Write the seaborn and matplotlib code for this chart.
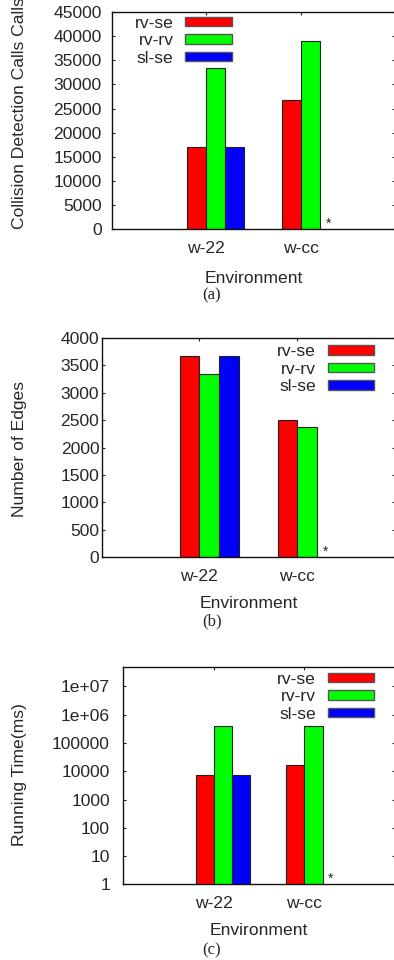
import numpy as np
import pandas as pd
import matplotlib
matplotlib.use("Agg")
import matplotlib.pyplot as plt
from matplotlib.patches import Patch
import seaborn as sns

# ---------------- data ----------------
environments = ["w-22", "w-cc"]
methods = ["rv-se", "rv-rv", "sl-se"]
colors = ["#ff0000", "#00ff00", "#0000ff"]

collision_calls = {"rv-se": [17000, 26700], "rv-rv": [33300, 38900], "sl-se": [17000, np.nan]}
num_edges = {"rv-se": [3670, 2500], "rv-rv": [3340, 2370], "sl-se": [3670, np.nan]}
running_time = {"rv-se": [7200, 17200], "rv-rv": [400000, 390000], "sl-se": [7200, np.nan]}

yticks_a = [0, 5000, 10000, 15000, 20000, 25000, 30000, 35000, 40000, 45000]
yticks_b = [0, 500, 1000, 1500, 2000, 2500, 3000, 3500, 4000]
yticks_c = [1, 10, 100, 1000, 10000, 100000, 1000000, 10000000]
yticklabels_c = ["1", "10", "100", "1000", "10000", "100000", "1e+06", "1e+07"]

ylabels = ["Collision Detection Calls Calls", "Number of Edges", "Running Time(ms)"]
xlabel = "Environment"
captions = ["(a)", "(b)", "(c)"]
missing_mark = "*"

# ---------------- style ----------------
sns.set_style("ticks")
plt.rcParams["font.family"] = ["Liberation Sans", "DejaVu Sans"]
FS = 12.6

fig = plt.figure(figsize=(3.94, 9.6), dpi=100)

W, H = 394.0, 960.0
def rect(left, right, top, bottom):
    return [left / W, 1 - bottom / H, (right - left) / W, (bottom - top) / H]

panels = [
    dict(data=collision_calls, rect=rect(112, 395, 12, 229.3), ylim=(0, 45000), yticks=yticks_a,
         ytl=[str(v) for v in yticks_a], log=False, ypad=7.4,
         ylab_xy=(-0.3251, 0.5352), xlab_y=-0.2485,
         leg_anchor=(0.4223, 0.868), caption_y=295),
    dict(data=num_edges, rect=rect(101.7, 395, 338, 557), ylim=(0, 4000), yticks=yticks_b,
         ytl=[str(v) for v in yticks_b], log=False, ypad=1.7,
         ylab_xy=(-0.2786, 0.4954), xlab_y=-0.234,
         leg_anchor=(0.9284, 0.858), caption_y=621.7),
    dict(data=running_time, rect=rect(123.3, 395, 666.7, 884.3), ylim=(1, 5e7), yticks=yticks_c,
         ytl=yticklabels_c, log=True, ypad=9.6,
         ylab_xy=(-0.3802, 0.5023), xlab_y=-0.233,
         leg_anchor=(0.9227, 0.862), caption_y=950),
]

bar_width = 0.6
n_h = len(methods)
offsets = [(-bar_width / 2 + bar_width / n_h * (i + 0.5)) for i in range(n_h)]

for i, p in enumerate(panels):
    ax = fig.add_axes(p["rect"])
    rows = []
    for m in methods:
        for e, v in zip(environments, p["data"][m]):
            rows.append({"env": e, "method": m, "value": v})
    df = pd.DataFrame(rows)
    if p["log"]:
        ax.set_yscale("log")
    sns.barplot(data=df, x="env", y="value", hue="method", order=environments,
                hue_order=methods, palette=colors, width=bar_width, errorbar=None,
                edgecolor="#222222", linewidth=0.8, saturation=1, legend=False, ax=ax)
    ax.set_ylim(*p["ylim"])
    ax.set_xlim(-1.1, 1.9)
    # tick at the boundary between first and second bar of each group
    ax.set_xticks([k + (offsets[0] + offsets[1]) / 2 for k in range(len(environments))], environments)
    ax.set_yticks(p["yticks"], p["ytl"])
    ax.minorticks_off()
    ax.tick_params(axis="both", direction="in", length=2.4, width=0.8, top=True, right=True,
                   labelsize=FS, color="#222222")
    ax.tick_params(axis="y", pad=p["ypad"])
    ax.tick_params(axis="x", pad=8.5)
    for s in ["left", "top", "bottom"]:
        ax.spines[s].set_linewidth(1.0)
        ax.spines[s].set_color("#111111")
    ax.spines["right"].set_visible(False)

    ax.set_ylabel(ylabels[i], fontsize=FS, va="center")
    ax.yaxis.set_label_coords(*p["ylab_xy"])
    ax.set_xlabel(xlabel, fontsize=FS, va="baseline")
    ax.xaxis.set_label_coords(0.5, p["xlab_y"])

    handles = [Patch(facecolor=c, edgecolor="#555555", linewidth=1.0, label=m)
               for m, c in zip(methods, colors)]
    ax.legend(handles=handles, loc="center right", bbox_to_anchor=p["leg_anchor"],
              frameon=False, markerfirst=False, fontsize=FS, handlelength=2.63,
              handleheight=0.46, handletextpad=0.69, labelspacing=0.15,
              borderpad=0, borderaxespad=0)

    # marker for the missing sl-se bar of w-cc
    ax.annotate(missing_mark,
                xy=(environments.index("w-cc") + offsets[methods.index("sl-se")] - 0.01, 0),
                xycoords=ax.get_xaxis_transform(), xytext=(0, 1.2), textcoords="offset points",
                ha="center", va="baseline", fontsize=10)

    fig.text(212 / W, 1 - p["caption_y"] / H, captions[i], ha="center", va="center",
             fontsize=12, family=["Liberation Serif", "DejaVu Serif"])

fig.savefig("out.png", dpi=100)
